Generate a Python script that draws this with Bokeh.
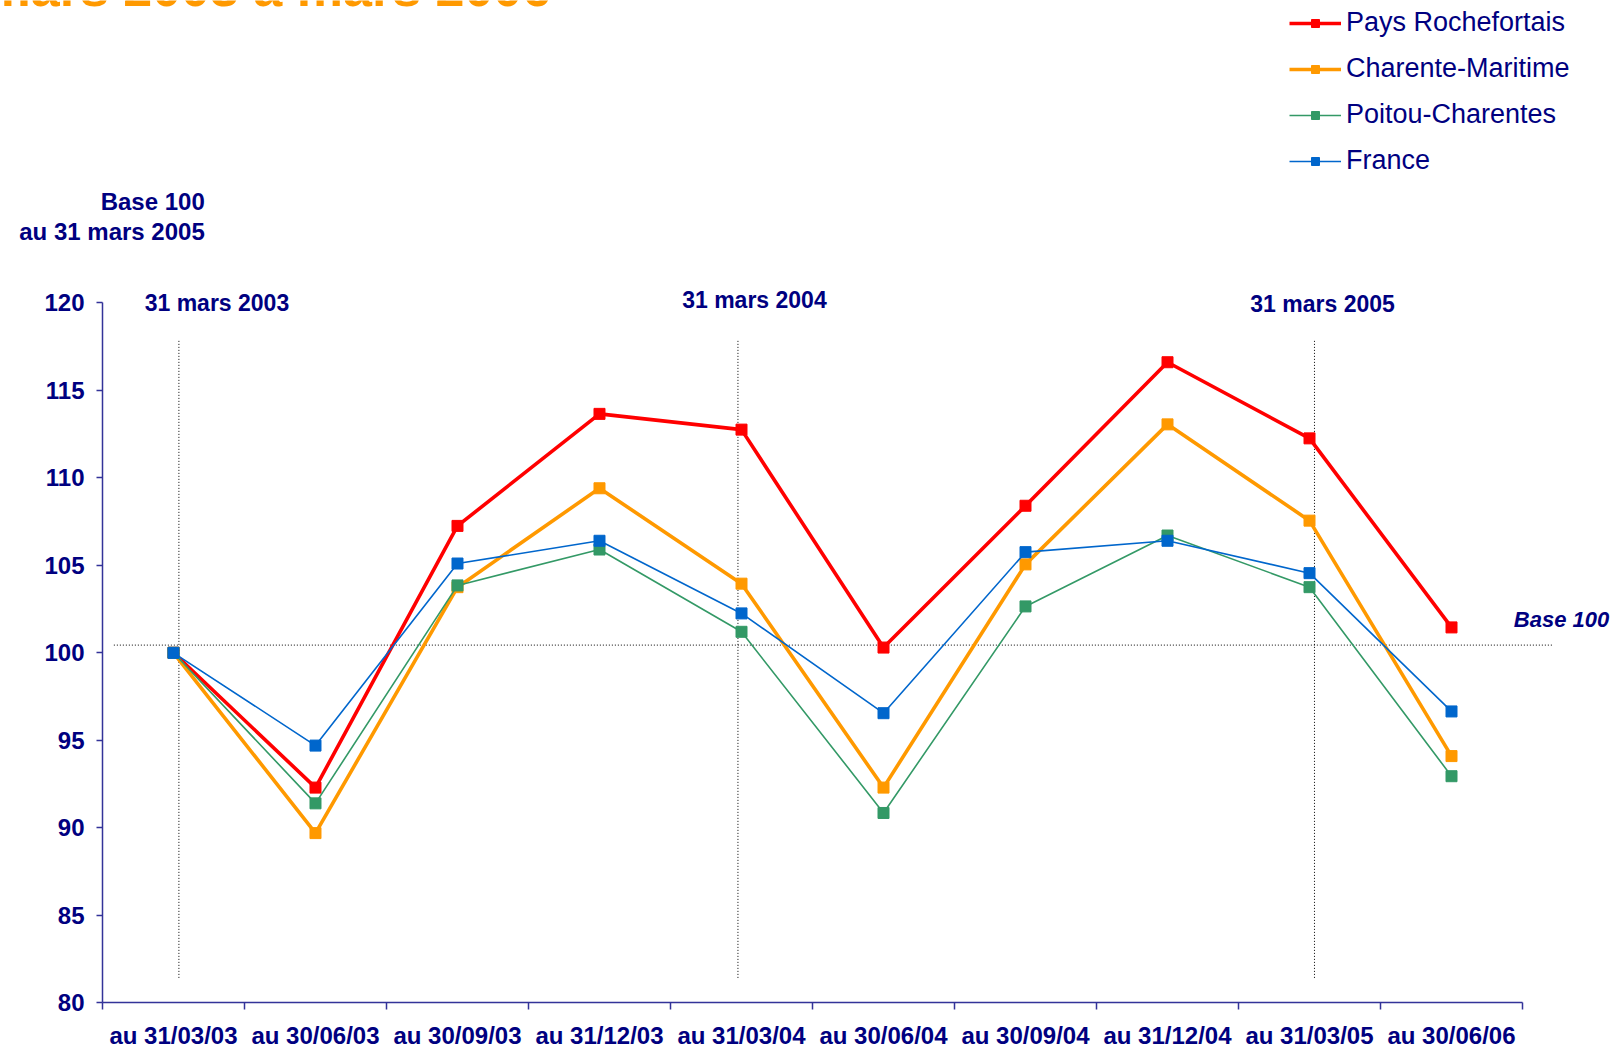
from bokeh.plotting import figure
from bokeh.models import Range1d, FixedTicker, Label, Legend, LegendItem
from bokeh.embed import file_html
from bokeh.resources import INLINE

# ---- data ----
categories = ["au 31/03/03", "au 30/06/03", "au 30/09/03", "au 31/12/03", "au 31/03/04",
              "au 30/06/04", "au 30/09/04", "au 31/12/04", "au 31/03/05", "au 30/06/06"]
pays_rochefortais = [100, 92.3, 107.25, 113.65, 112.75, 100.3, 108.4, 116.6, 112.25, 101.45]
charente_maritime = [100, 89.7, 103.75, 109.4, 103.95, 92.3, 105.05, 113.05, 107.55, 94.1]
poitou_charentes = [100, 91.4, 103.85, 105.9, 101.2, 90.85, 102.65, 106.7, 103.75, 92.95]
france = [100, 94.7, 105.1, 106.4, 102.25, 96.55, 105.75, 106.4, 104.55, 96.65]
y_ticks = [80, 85, 90, 95, 100, 105, 110, 115, 120]
series_names = ["Pays Rochefortais", "Charente-Maritime", "Poitou-Charentes", "France"]
period_labels = ["31 mars 2003", "31 mars 2004", "31 mars 2005"]
title_text = "mars 2003 à mars 2006"

NAVY = "#000080"
AXIS = "#333399"
FONT = "Liberation Sans"

W, H = 1617, 1049
p = figure(width=W, height=H, output_backend="svg", toolbar_location=None,
           x_range=Range1d(-0.7183, 10.669), y_range=Range1d(77.338, 137.264),
           min_border=0)
p.outline_line_color = None
p.xgrid.visible = False
p.ygrid.visible = False
p.background_fill_color = "white"
p.border_fill_color = "white"

xs = [i + 0.5 for i in range(len(categories))]

# axes
xa = p.xaxis[0]
xa.fixed_location = 80
xa.ticker = FixedTicker(ticks=xs, minor_ticks=list(range(len(categories) + 1)))
xa.major_label_overrides = {x: c for x, c in zip(xs, categories)}
xa.bounds = (0, len(categories))
xa.axis_line_color = AXIS
xa.axis_line_width = 1.5
xa.major_tick_out = 0
xa.major_tick_in = 0
xa.minor_tick_out = 7
xa.minor_tick_in = 0
xa.minor_tick_line_color = AXIS
xa.minor_tick_line_width = 1.5
xa.major_label_standoff = 12
xa.major_label_text_font = FONT
xa.major_label_text_font_style = "bold"
xa.major_label_text_font_size = "24px"
xa.major_label_text_color = NAVY

ya = p.yaxis[0]
ya.fixed_location = 0
ya.ticker = FixedTicker(ticks=y_ticks)
ya.bounds = (80, 120)
ya.axis_line_color = AXIS
ya.axis_line_width = 1.5
ya.major_tick_out = 6
ya.major_tick_in = 0
ya.major_tick_line_color = AXIS
ya.major_tick_line_width = 1.5
ya.minor_tick_line_color = None
ya.major_label_standoff = 12
ya.major_label_text_font = FONT
ya.major_label_text_font_style = "bold"
ya.major_label_text_font_size = "24px"
ya.major_label_text_color = NAVY

# dotted reference lines
vx = [0.538, 4.475, 8.535]
p.segment(x0=vx, y0=[117.82] * 3, x1=vx, y1=[81.41] * 3,
          line_color="black", line_width=1, line_dash="1 2")
p.segment(x0=[0.08], y0=[100.44], x1=[10.212], y1=[100.44],
          line_color="black", line_width=1, line_dash="1 2")

# series
styles = [
    (pays_rochefortais, "#FF0000", 3.6),
    (charente_maritime, "#FF9900", 3.6),
    (poitou_charentes, "#339966", 1.6),
    (france, "#0066CC", 1.6),
]
items = []
for name, (vals, col, lw) in zip(series_names, styles):
    r1 = p.line(xs, vals, line_color=col, line_width=lw)
    r2 = p.scatter(xs, vals, marker="square", size=11, fill_color=col, line_color=col)
    items.append(LegendItem(label=name, renderers=[r1, r2]))

legend = Legend(items=items, location=(1289, 873), orientation="vertical",
                label_text_font=FONT, label_text_font_size="27px", label_text_color=NAVY,
                glyph_width=52, glyph_height=20, label_standoff=5, spacing=15,
                padding=0, margin=0, border_line_color=None, background_fill_alpha=0)
p.add_layout(legend)

# title (cut by the top edge, as in the reference)
p.add_layout(Label(x=-0.831, y=137.95, text=title_text, text_align="left",
                   text_baseline="alphabetic", text_font=FONT, text_font_style="bold",
                   text_font_size="52px", text_color="#FF9900"))

# annotations
for txt, x, y in zip(period_labels, [0.806, 4.591, 8.592], [120.0, 120.18, 119.94]):
    p.add_layout(Label(x=x, y=y, text=txt, text_align="center", text_baseline="middle",
                       text_font=FONT, text_font_style="bold", text_font_size="23px",
                       text_color=NAVY))
p.add_layout(Label(x=10.275, y=101.91, text="Base 100", text_align="center",
                   text_baseline="middle", text_font=FONT, text_font_style="bold italic",
                   text_font_size="22px", text_color=NAVY))
p.add_layout(Label(x=0.72, y=125.78, text="Base 100", text_align="right",
                   text_baseline="middle", text_font=FONT, text_font_style="bold",
                   text_font_size="24px", text_color=NAVY))
p.add_layout(Label(x=0.72, y=124.07, text="au 31 mars 2005", text_align="right",
                   text_baseline="middle", text_font=FONT, text_font_style="bold",
                   text_font_size="24px", text_color=NAVY))

open("out.html", "w").write(file_html(p, INLINE))
